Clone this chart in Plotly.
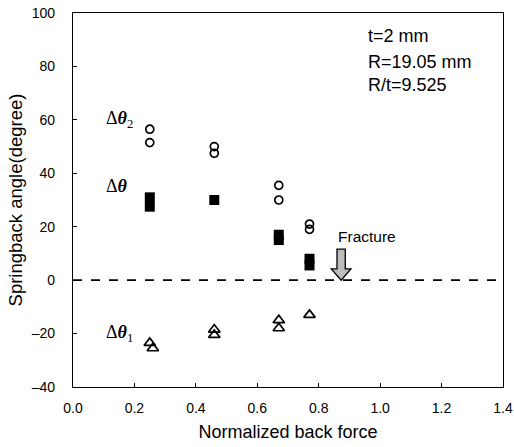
import plotly.graph_objects as go

# Data
force_d2 = [0.25, 0.25, 0.46, 0.46, 0.67, 0.67, 0.77, 0.77]
angle_d2 = [56.5, 51.5, 50.0, 47.5, 35.5, 30.0, 21.0, 19.0]

force_d = [0.25, 0.25, 0.46, 0.67, 0.67, 0.77, 0.77]
angle_d = [31.0, 27.5, 30.0, 17.0, 15.0, 8.0, 5.5]

force_d1 = [0.25, 0.26, 0.46, 0.46, 0.67, 0.67, 0.77]
angle_d1 = [-23.5, -25.5, -18.5, -20.5, -15.0, -18.0, -13.0]

x_ticks = [0.0, 0.2, 0.4, 0.6, 0.8, 1.0, 1.2, 1.4]
x_tick_labels = ["0.0", "0.2", "0.4", "0.6", "0.8", "1.0", "1.2", "1.4"]
y_ticks = [-40, -20, 0, 20, 40, 60, 80, 100]
y_tick_labels = ["\u201340", "\u201320", "0", "20", "40", "60", "80", "100"]

info_lines = ["t=2 mm", "R=19.05 mm", "R/t=9.525"]
info_y = [91.4, 81.8, 73.0]

fracture_x = 0.873

fig = go.Figure()
fig.add_trace(go.Scatter(x=force_d2, y=angle_d2, mode="markers",
                         marker=dict(symbol="circle-open", size=8, color="black",
                                     line=dict(width=1.7, color="black")),
                         showlegend=False))
fig.add_trace(go.Scatter(x=force_d, y=angle_d, mode="markers",
                         marker=dict(symbol="square", size=10, color="black"),
                         showlegend=False))
fig.add_trace(go.Scatter(x=force_d1, y=angle_d1, mode="markers",
                         marker=dict(symbol="triangle-up-open", size=10, color="black",
                                     line=dict(width=1.7, color="black")),
                         showlegend=False))

# zero dashed line
fig.add_shape(type="line", xref="paper", yref="y", x0=0, x1=1, y0=0, y1=0,
              line=dict(color="black", width=1.6, dash="dash"))

# Fracture block arrow
sw, hw = 0.0135, 0.032
path = (f"M {fracture_x - sw},{11.6} L {fracture_x + sw},{11.6} L {fracture_x + sw},{4.2} "
        f"L {fracture_x + hw},{4.2} L {fracture_x},{0} L {fracture_x - hw},{4.2} "
        f"L {fracture_x - sw},{4.2} Z")
fig.add_shape(type="path", path=path, xref="x", yref="y",
              fillcolor="#bdbdbd", line=dict(color="black", width=1.3))

fig.add_annotation(x=fracture_x, y=16.5, text="Fracture", showarrow=False,
                   xanchor="left", xshift=-5, yanchor="middle",
                   font=dict(family="Liberation Sans, Arial", size=15.5, color="black"))

# Info text
for line, yv in zip(info_lines, info_y):
    fig.add_annotation(x=0.955, y=yv, xanchor="left", yanchor="middle",
                       text=line, showarrow=False, align="left",
                       font=dict(family="Liberation Sans, Arial", size=18, color="black"))

# Series labels
lab_font = dict(family="Liberation Serif, Times New Roman", size=18, color="black")
fig.add_annotation(x=0.10, y=60.3, text="\u0394<b><i>\u03b8</i></b><sub>2</sub>", showarrow=False,
                   xanchor="left", font=lab_font)
fig.add_annotation(x=0.10, y=35.2, text="\u0394<b><i>\u03b8</i></b>", showarrow=False,
                   xanchor="left", font=lab_font)
fig.add_annotation(x=0.10, y=-19.8, text="\u0394<b><i>\u03b8</i></b><sub>1</sub>", showarrow=False,
                   xanchor="left", font=lab_font)

axis_font = dict(family="Liberation Sans, Arial", size=14, color="black")
fig.update_xaxes(range=[0, 1.4], tickvals=x_ticks, ticktext=x_tick_labels, automargin=False,
                 ticks="inside", ticklen=4, tickcolor="black", showgrid=False, zeroline=False,
                 showline=True, linecolor="black", linewidth=1.1, mirror=True,
                 tickfont=axis_font, ticklabelstandoff=8,
                 title=dict(text="Normalized back force", standoff=10,
                            font=dict(family="Liberation Sans, Arial", size=18, color="black")))
fig.update_yaxes(range=[-40, 100], tickvals=y_ticks, ticktext=y_tick_labels, automargin=False,
                 ticks="inside", ticklen=4, tickcolor="black", showgrid=False, zeroline=False,
                 showline=True, linecolor="black", linewidth=1.1, mirror=True,
                 tickfont=axis_font, ticklabelstandoff=14,
                 title=dict(text="Springback angle(degree)", standoff=4,
                            font=dict(family="Liberation Sans, Arial", size=18.5, color="black")))

fig.update_layout(width=514, height=447, margin=dict(l=73, r=11, t=13, b=60),
                  plot_bgcolor="white", paper_bgcolor="white")

fig.write_html("out.html", config={"displayModeBar": False},
               post_script="document.body.style.margin='0';")
